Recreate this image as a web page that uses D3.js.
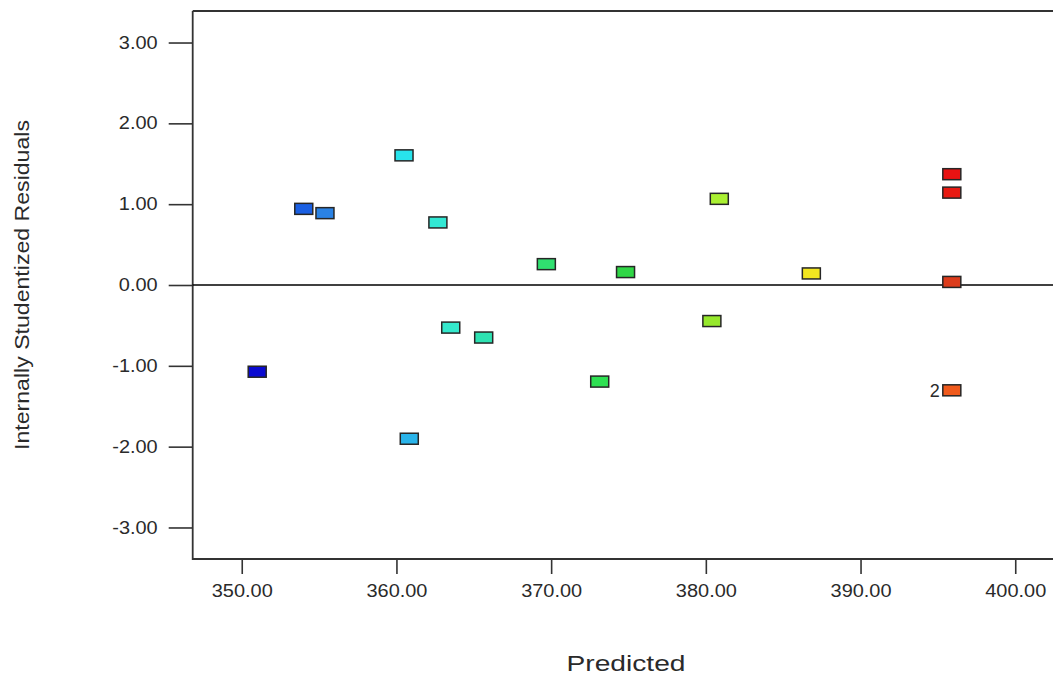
<!DOCTYPE html>
<html>
<head>
<meta charset="utf-8">
<script src="https://cdn.jsdelivr.net/npm/d3@7"></script>
<style>
  html, body { margin: 0; padding: 0; background: #fff; }
  svg { display: block; }
  text { font-family: "Liberation Sans", Arial, sans-serif; fill: #2a2a2a; }
</style>
</head>
<body>
<svg id="chart" width="1053" height="675"></svg>
<script>
// ---- data ----
const predicted = [351.0, 354.01, 355.38, 360.49, 360.83, 362.68, 363.51, 365.64, 369.69, 373.14, 374.81, 380.39, 380.87, 386.82, 395.9, 395.9, 395.9, 395.9];
const residuals = [-1.073, 0.942, 0.889, 1.604, -1.902, 0.774, -0.527, -0.65, 0.258, -1.195, 0.16, -0.446, 1.066, 0.143, 1.371, 1.143, 0.038, -1.303];
const pointLabels = ["", "", "", "", "", "", "", "", "", "", "", "", "", "", "", "", "", "2"];
const xTicks = [350, 360, 370, 380, 390, 400];
const yTicks = [3, 2, 1, 0, -1, -2, -3];
const xTitle = "Predicted";
const yTitle = "Internally Studentized Residuals";

// ---- style ----
const pointColors = ["#0a0ad0", "#1a5fe2", "#2a82e4", "#28e4ec", "#2ab4ea", "#32e8d4", "#34e8cc", "#2ee2b2",
                     "#30e070", "#2ee052", "#30d646", "#96e82c", "#aaf032", "#f2e620", "#e81212", "#e81a12", "#dc3c1c", "#f05a1c"];

const svg = d3.select("#chart");
const plotLeft = 192.7, plotTop = 11, plotBottom = 559;
const x = d3.scaleLinear().domain([346.83, 405]).range([plotLeft, plotLeft + (405 - 346.83) * 15.47]);
const y = d3.scaleLinear().domain([-3.39, 3.39]).range([plotBottom, plotTop]);

function stretch(sel, factor) {
  sel.each(function() {
    const w = this.getComputedTextLength();
    d3.select(this).attr("textLength", w * factor).attr("lengthAdjust", "spacingAndGlyphs");
  });
}

// x axis
const xAxis = svg.append("g").attr("transform", `translate(0,${plotBottom})`)
  .call(d3.axisBottom(x).tickValues(xTicks).tickFormat(d3.format(".2f")).tickSize(15).tickSizeOuter(0).tickPadding(10));
xAxis.select(".domain").remove();
xAxis.selectAll(".tick line").attr("stroke", "#333").attr("stroke-width", 1.6);
xAxis.selectAll(".tick text").attr("font-size", 17.5).attr("font-family", "Liberation Sans, Arial, sans-serif").attr("fill", "#2a2a2a").attr("dy", "0.75em").call(stretch, 1.14);

// y axis
const yAxis = svg.append("g").attr("transform", `translate(${plotLeft},0)`)
  .call(d3.axisLeft(y).tickValues(yTicks).tickFormat(d3.format(".2f")).tickSize(24).tickSizeOuter(0).tickPadding(11));
yAxis.select(".domain").remove();
yAxis.selectAll(".tick line").attr("stroke", "#333").attr("stroke-width", 1.6);
yAxis.selectAll(".tick text").attr("font-size", 17.5).attr("font-family", "Liberation Sans, Arial, sans-serif").attr("fill", "#2a2a2a").text(d => d3.format(".2f")(d).replace("−", "-")).call(stretch, 1.14);

// frame
svg.append("path")
  .attr("d", `M${plotLeft},${plotTop} L1060,${plotTop} M${plotLeft},${plotTop} L${plotLeft},${plotBottom} L1060,${plotBottom}`)
  .attr("fill", "none").attr("stroke", "#333").attr("stroke-width", 1.8);

// zero line
svg.append("line").attr("x1", plotLeft).attr("x2", 1060).attr("y1", y(0)).attr("y2", y(0))
  .attr("stroke", "#000").attr("stroke-width", 1.6);

// points
const pts = predicted.map((p, i) => ({ p, r: residuals[i], label: pointLabels[i], i }));
svg.append("g").selectAll("rect").data(pts).join("rect")
  .attr("x", d => x(d.p) - 9).attr("y", d => y(d.r) - 5.5)
  .attr("width", 18).attr("height", 11)
  .attr("fill", d => pointColors[d.i])
  .attr("stroke", "#262626").attr("stroke-width", 1.5);

svg.append("g").selectAll("text").data(pts.filter(d => d.label)).join("text")
  .attr("x", d => x(d.p) - 12).attr("y", d => y(d.r) + 6.5)
  .attr("text-anchor", "end").attr("font-size", 18).text(d => d.label);

// titles
svg.append("text").attr("x", 626).attr("y", 671).attr("text-anchor", "middle")
  .attr("font-size", 22).text(xTitle)
  .attr("textLength", 119).attr("lengthAdjust", "spacingAndGlyphs");

svg.append("text").attr("transform", "translate(29,285) rotate(-90)").attr("text-anchor", "middle")
  .attr("font-size", 20).text(yTitle)
  .attr("textLength", 330).attr("lengthAdjust", "spacingAndGlyphs");
</script>
</body>
</html>
